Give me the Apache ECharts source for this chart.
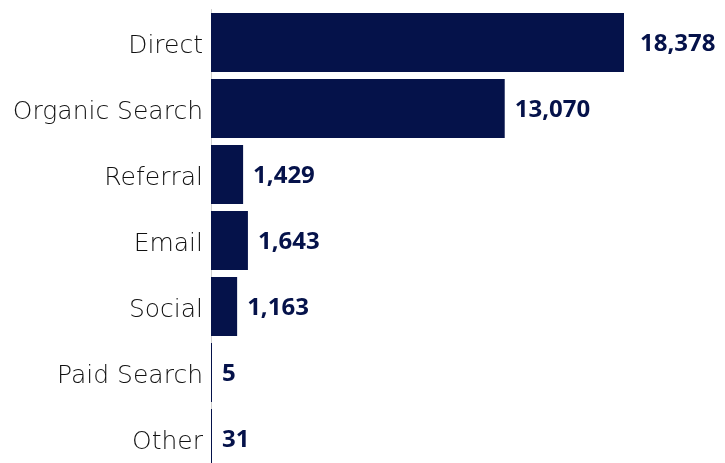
<!DOCTYPE html>
<html>
<head>
<meta charset="utf-8">
<script src="https://cdn.jsdelivr.net/npm/echarts@6/dist/echarts.min.js"></script>
<style>
html, body { margin: 0; padding: 0; background: #fff; }
#main { width: 725px; height: 463px; }
</style>
</head>
<body>
<div id="main"></div>
<script>
var channels = ['Direct', 'Organic Search', 'Referral', 'Email', 'Social', 'Paid Search', 'Other']
var sessions = [18378, 13070, 1429, 1643, 1163, 5, 31]

var navy = '#05124a'
var chart = echarts.init(document.getElementById('main'))

// the longest bar's label sits a bit further out
var barData = sessions.map(function (v, i) {
  return i === 0 ? { value: v, label: { distance: 16 } } : v
})

var option = {
  animation: false,
  grid: { left: 211, top: 9.5, bottom: -8.5, right: 101, outerBoundsMode: 'none' },
  xAxis: {
    type: 'value',
    min: 0,
    max: 'dataMax',
    show: false
  },
  yAxis: {
    type: 'category',
    inverse: true,
    data: channels,
    axisLine: { show: true, lineStyle: { color: '#d0d0d0', width: 1 } },
    axisTick: { show: false },
    axisLabel: {
      margin: 8,
      // empty spacer line above pushes the name down a few px
      formatter: function (v) { return '{g|}\n{t|' + v + '}' },
      rich: {
        g: { height: 8, lineHeight: 8 },
        t: {
          fontFamily: 'DejaVu Sans',
          fontWeight: 200,
          fontSize: 25,
          lineHeight: 30,
          color: '#111'
        }
      }
    }
  },
  series: [{
    type: 'bar',
    data: barData,
    barCategoryGap: '10.6%',
    barMinHeight: 1,
    itemStyle: { color: navy },
    label: {
      show: true,
      position: 'right',
      distance: 10,
      offset: [0, 2],
      fontFamily: 'Open Sans',
      fontWeight: 'bold',
      fontSize: 24,
      color: navy,
      formatter: function (p) { return p.value.toLocaleString('en-US') }
    }
  }]
}

chart.setOption(option)
</script>
</body>
</html>
